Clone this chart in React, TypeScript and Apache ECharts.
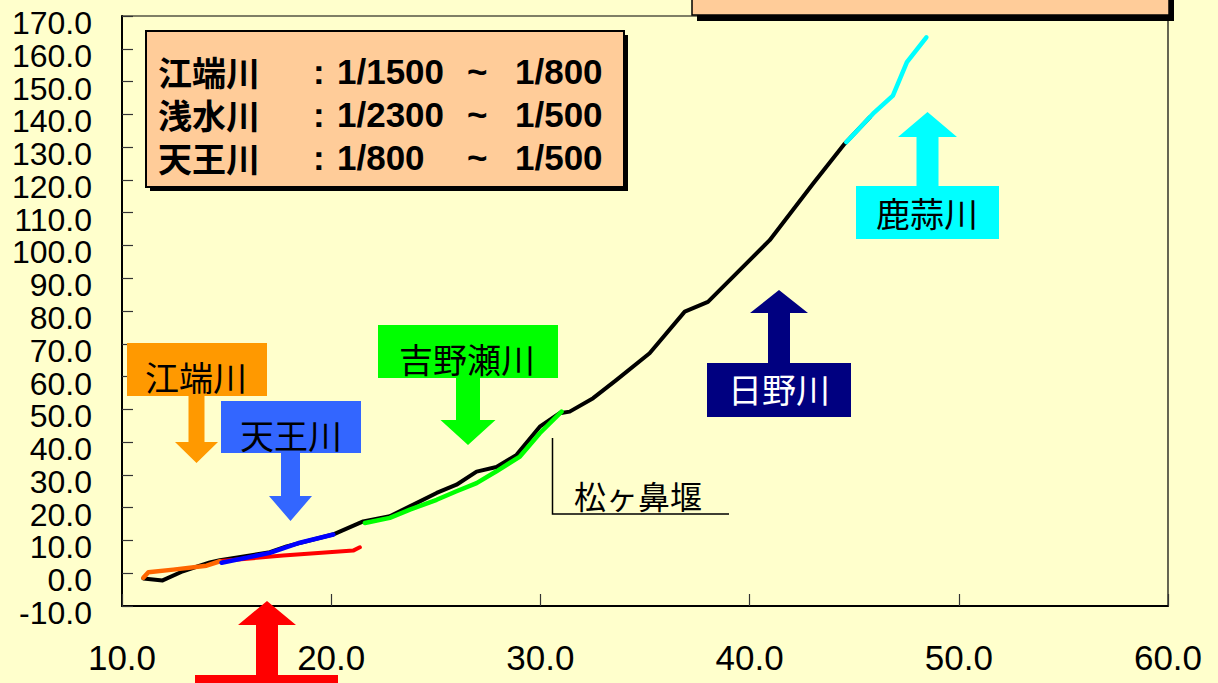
import React, { useEffect, useRef } from "react";
import * as echarts from "echarts";

// ---- data (distance [km] vs elevation [m]) ----
const mainProfile: [number, number][] = [
  [11.02, -1.6], [11.94, -2.2], [12.91, 0.6], [14.2, 3.3], [14.68, 4.0],
  [17.07, 6.4], [17.87, 8.2], [20.08, 11.8], [21.53, 15.8], [22.8, 17.4],
  [23.76, 20.4], [25.04, 24.5], [25.99, 27.0], [26.95, 31.0], [27.9, 32.4],
  [28.86, 36.1], [29.97, 44.7], [30.92, 48.8], [31.4, 49.3], [32.52, 53.4],
  [33.64, 59.0], [35.22, 67.1], [36.9, 79.8], [38.01, 82.8], [40.96, 101.6],
  [43.03, 118.8], [44.54, 131.0], [45.74, 139.1],
];
const ebataProfile: [number, number][] = [
  [11.02, -1.4], [11.26, 0.3], [12.45, 1.1], [14.04, 2.3], [14.68, 3.65],
];
const asouzuProfile: [number, number][] = [
  [14.7, 3.7], [17.7, 5.4], [21.05, 6.9], [21.37, 7.9],
];
const tennoProfile: [number, number][] = [
  [14.76, 3.2], [17.07, 6.2], [18.5, 9.3], [20.1, 11.8],
];
const yoshinoseProfile: [number, number][] = [
  [21.61, 15.3], [22.8, 16.9], [23.76, 19.4], [25.04, 22.4], [25.99, 25.0],
  [26.95, 27.5], [27.9, 31.1], [29.02, 35.6], [29.97, 42.7], [31.01, 49.3],
];
const kabiruProfile: [number, number][] = [
  [44.62, 131.5], [45.9, 140.2], [46.85, 145.7], [47.52, 155.9], [48.45, 163.5],
];
const gradientNames = ["江端川", "浅水川", "天王川"];
const gradientFrom = ["1/1500", "1/2300", "1/800"];
const gradientTo = ["1/800", "1/500", "1/500"];

const BG = "#FFFFCC";
const NUM_FONT = "'Liberation Sans', Arial, sans-serif";
const JP_FONT = "'Noto Sans CJK JP', sans-serif";

function downArrow(cx: number, sw: number, hw: number, top: number, base: number, tip: number) {
  return [
    [cx - sw / 2, top], [cx + sw / 2, top], [cx + sw / 2, base], [cx + hw / 2, base],
    [cx, tip], [cx - hw / 2, base], [cx - sw / 2, base],
  ];
}

function label(text: string, x: number, y: number, fill: string, size = 34, weight = "normal", family = JP_FONT, align = "center", lh?: number) {
  return {
    type: "text",
    z: 100,
    style: {
      text, x, y, fill,
      fontSize: size, fontFamily: family, fontWeight: weight, lineHeight: lh ?? Math.round(size * 0.9),
      align, verticalAlign: "middle", textAlign: align, textVerticalAlign: "middle",
    },
  };
}

function line(name: string, data: [number, number][], color: string, width = 4) {
  return {
    name, type: "line", data, showSymbol: false, symbol: "none",
    lineStyle: { color, width, join: "round", cap: "round" },
    silent: true,
  };
}

export default function App() {
  const ref = useRef<HTMLDivElement>(null);
  useEffect(() => {
    if (!ref.current) return;
    const chart = echarts.init(ref.current, undefined, { renderer: "svg" });

    const graphics: any[] = [];
    // top-right box (cut off)
    graphics.push({ type: "rect", z: 90, shape: { x: 697, y: -30, width: 477, height: 51 }, style: { fill: "#000" } });
    graphics.push({ type: "rect", z: 91, shape: { x: 692, y: -35, width: 477, height: 50 }, style: { fill: "#FFCC99", stroke: "#000", lineWidth: 1.5 } });
    // legend box
    graphics.push({ type: "rect", z: 90, shape: { x: 150, y: 35, width: 478, height: 156 }, style: { fill: "#000" } });
    graphics.push({ type: "rect", z: 91, shape: { x: 146, y: 31, width: 478, height: 156 }, style: { fill: "#FFCC99", stroke: "#000", lineWidth: 2 } });
    const rowsY = [71, 114, 157];
    graphics.push(label(gradientNames.join("\n"), 158, 114, "#000", 34, "bold", JP_FONT, "left", 43));
    gradientNames.forEach((_n, i) => {
      graphics.push(label(":", 313, rowsY[i], "#000", 35, "bold", NUM_FONT, "left"));
      graphics.push(label(gradientFrom[i], 337, rowsY[i], "#000", 35, "bold", NUM_FONT, "left"));
      graphics.push(label("~", 467, rowsY[i], "#000", 35, "bold", NUM_FONT, "left"));
      graphics.push(label(gradientTo[i], 515, rowsY[i], "#000", 35, "bold", NUM_FONT, "left"));
    });

    // 江端川
    graphics.push({ type: "rect", z: 95, shape: { x: 127, y: 343, width: 140, height: 53 }, style: { fill: "#FF9900" } });
    graphics.push({ type: "polygon", z: 95, shape: { points: downArrow(196.5, 16, 43, 395, 442, 463) }, style: { fill: "#FF9900" } });
    graphics.push(label("江端川", 196, 376, "#000"));
    // 天王川
    graphics.push({ type: "rect", z: 96, shape: { x: 221, y: 401, width: 140, height: 52 }, style: { fill: "#3366FF" } });
    graphics.push({ type: "polygon", z: 96, shape: { points: downArrow(290.5, 19, 43, 452, 496, 521) }, style: { fill: "#3366FF" } });
    graphics.push(label("天王川", 291, 434, "#000"));
    // 吉野瀬川
    graphics.push({ type: "rect", z: 95, shape: { x: 378, y: 325, width: 180, height: 53 }, style: { fill: "#00FF00" } });
    graphics.push({ type: "polygon", z: 95, shape: { points: downArrow(468, 24, 55, 377, 420, 445) }, style: { fill: "#00FF00" } });
    graphics.push(label("吉野瀬川", 467, 358, "#000"));
    // 日野川
    graphics.push({ type: "rect", z: 95, shape: { x: 707, y: 363, width: 144, height: 54 }, style: { fill: "#000080" } });
    graphics.push({ type: "polygon", z: 95, shape: { points: downArrow(779, 22, 58, 364, 313, 290) }, style: { fill: "#000080" } });
    graphics.push(label("日野川", 779, 388, "#FFFFFF"));
    // 鹿蒜川
    graphics.push({ type: "rect", z: 95, shape: { x: 856, y: 186, width: 143, height: 53 }, style: { fill: "#00FFFF" } });
    graphics.push({ type: "polygon", z: 95, shape: { points: downArrow(927.5, 22, 59, 187, 137, 112) }, style: { fill: "#00FFFF" } });
    graphics.push(label("鹿蒜川", 927, 212, "#000"));
    // red (浅水川) arrow at bottom
    graphics.push({ type: "polygon", z: 95, shape: { points: downArrow(267, 22, 58, 676, 625, 601) }, style: { fill: "#FF0000" } });
    graphics.push({ type: "rect", z: 95, shape: { x: 195, y: 675, width: 143, height: 20 }, style: { fill: "#FF0000" } });
    // 松ヶ鼻堰
    graphics.push({ type: "polyline", z: 95, shape: { points: [[552.5, 438], [552.5, 514], [729, 514]] }, style: { stroke: "#000", lineWidth: 1.5, fill: "none" } });
    graphics.push(label("松ヶ鼻堰", 574, 495, "#000", 32, "normal", JP_FONT, "left"));

    chart.setOption({
      animation: false,
      backgroundColor: BG,
      grid: {
        left: 122, right: 50, top: 16, bottom: 77,
        show: true, borderColor: "#000", borderWidth: 1.2, backgroundColor: BG,
      },
      xAxis: {
        type: "value", min: 10, max: 60, interval: 10,
        axisLine: { show: true, onZero: false, lineStyle: { color: "#000", width: 2 } },
        axisTick: { show: true, inside: true, length: 12, lineStyle: { color: "#333", width: 1.2 } },
        splitLine: { show: false },
        axisLabel: {
          margin: 36, color: "#000", fontSize: 35, fontFamily: NUM_FONT, lineHeight: 30,
          showMinLabel: true, showMaxLabel: true, hideOverlap: false,
          formatter: (v: number) => v.toFixed(1),
        },
      },
      yAxis: {
        type: "value", min: -10, max: 170, interval: 10,
        axisLine: { show: true, onZero: false, lineStyle: { color: "#000", width: 2 } },
        axisTick: { show: true, inside: true, length: 11, lineStyle: { color: "#333", width: 1.2 } },
        splitLine: { show: false },
        axisLabel: {
          margin: 30, color: "#000", fontSize: 32, fontFamily: NUM_FONT,
          lineHeight: 14, verticalAlign: "top",
          showMinLabel: true, showMaxLabel: true, hideOverlap: false,
          formatter: (v: number) => v.toFixed(1),
        },
      },
      series: [
        line("本川", mainProfile, "#000000", 4),
        line("浅水川", asouzuProfile, "#FF0000", 4),
        line("江端川", ebataProfile, "#FF6600", 4.5),
        line("天王川", tennoProfile, "#0000FF", 4.5),
        line("吉野瀬川", yoshinoseProfile, "#00FF00", 4.5),
        line("鹿蒜川", kabiruProfile, "#00FFFF", 4.5),
      ],
      graphic: graphics,
    });
    return () => chart.dispose();
  }, []);
  return (
    <div
      ref={ref}
      style={{ position: "fixed", left: 0, top: 0, width: 1218, height: 683, background: BG }}
    />
  );
}
